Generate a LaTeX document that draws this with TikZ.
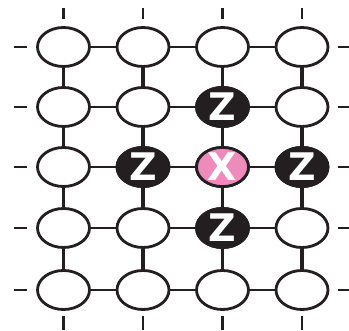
\documentclass[tikz,border=0pt]{standalone}
\usepackage{fontspec}
\newfontfamily\lblfont{DejaVu Sans}
\usetikzlibrary{shapes.geometric}
\definecolor{ink}{HTML}{231F20}
\definecolor{pinkq}{HTML}{EE8BBA}
\tikzset{
  qubit/.style={ellipse, draw=ink, line width=2.8pt, fill=white, minimum width=52pt, minimum height=39pt, inner sep=0pt},
  zq/.style={qubit, fill=ink, text=white, font=\lblfont\bfseries\fontsize{38}{38}\selectfont},
  xq/.style={qubit, fill=pinkq, text=white, font=\lblfont\bfseries\fontsize{38}{38}\selectfont},
  hedge/.style={draw=ink, line width=2.2pt},
  vedge/.style={draw=ink, line width=3.8pt},
  tick/.style={draw=ink, line width=2.5pt},
}
\begin{document}
\begin{tikzpicture}[x=1pt,y=-1pt]
\useasboundingbox (0,0) rectangle (349,331);
\def\cols{63.5/1,143/2,222.5/3,302/4}
\def\rows{47/1,107/2,167/3,228/4,290/5}
% ticks
\foreach \x/\c in \cols {
  \draw[tick] (\x,8) -- (\x,19);
  \draw[tick] (\x,316) -- (\x,330);
}
\foreach \y/\r in \rows {
  \draw[tick] (14,\y) -- (27,\y);
  \draw[tick] (338,\y) -- (349,\y);
}
% nodes
\foreach \y/\r in \rows {
  \foreach \x/\c in \cols {
    \node[qubit] (n\r\c) at (\x,\y) {};
  }
}
\node[zq] (z1) at (n23) {Z};
\node[zq] (z2) at (n32) {Z};
\node[xq] (x0) at (n33) {X};
\node[zq] (z3) at (n34) {Z};
\node[zq] (z4) at (n43) {Z};
% edges
\foreach \r in {1,...,5} {
  \draw[hedge] (n\r1) -- (n\r2);
  \draw[hedge] (n\r2) -- (n\r3);
  \draw[hedge] (n\r3) -- (n\r4);
}
\foreach \c in {1,...,4} {
  \draw[vedge] (n1\c) -- (n2\c);
  \draw[vedge] (n2\c) -- (n3\c);
  \draw[vedge] (n3\c) -- (n4\c);
  \draw[vedge] (n4\c) -- (n5\c);
}
\end{tikzpicture}
\end{document}
